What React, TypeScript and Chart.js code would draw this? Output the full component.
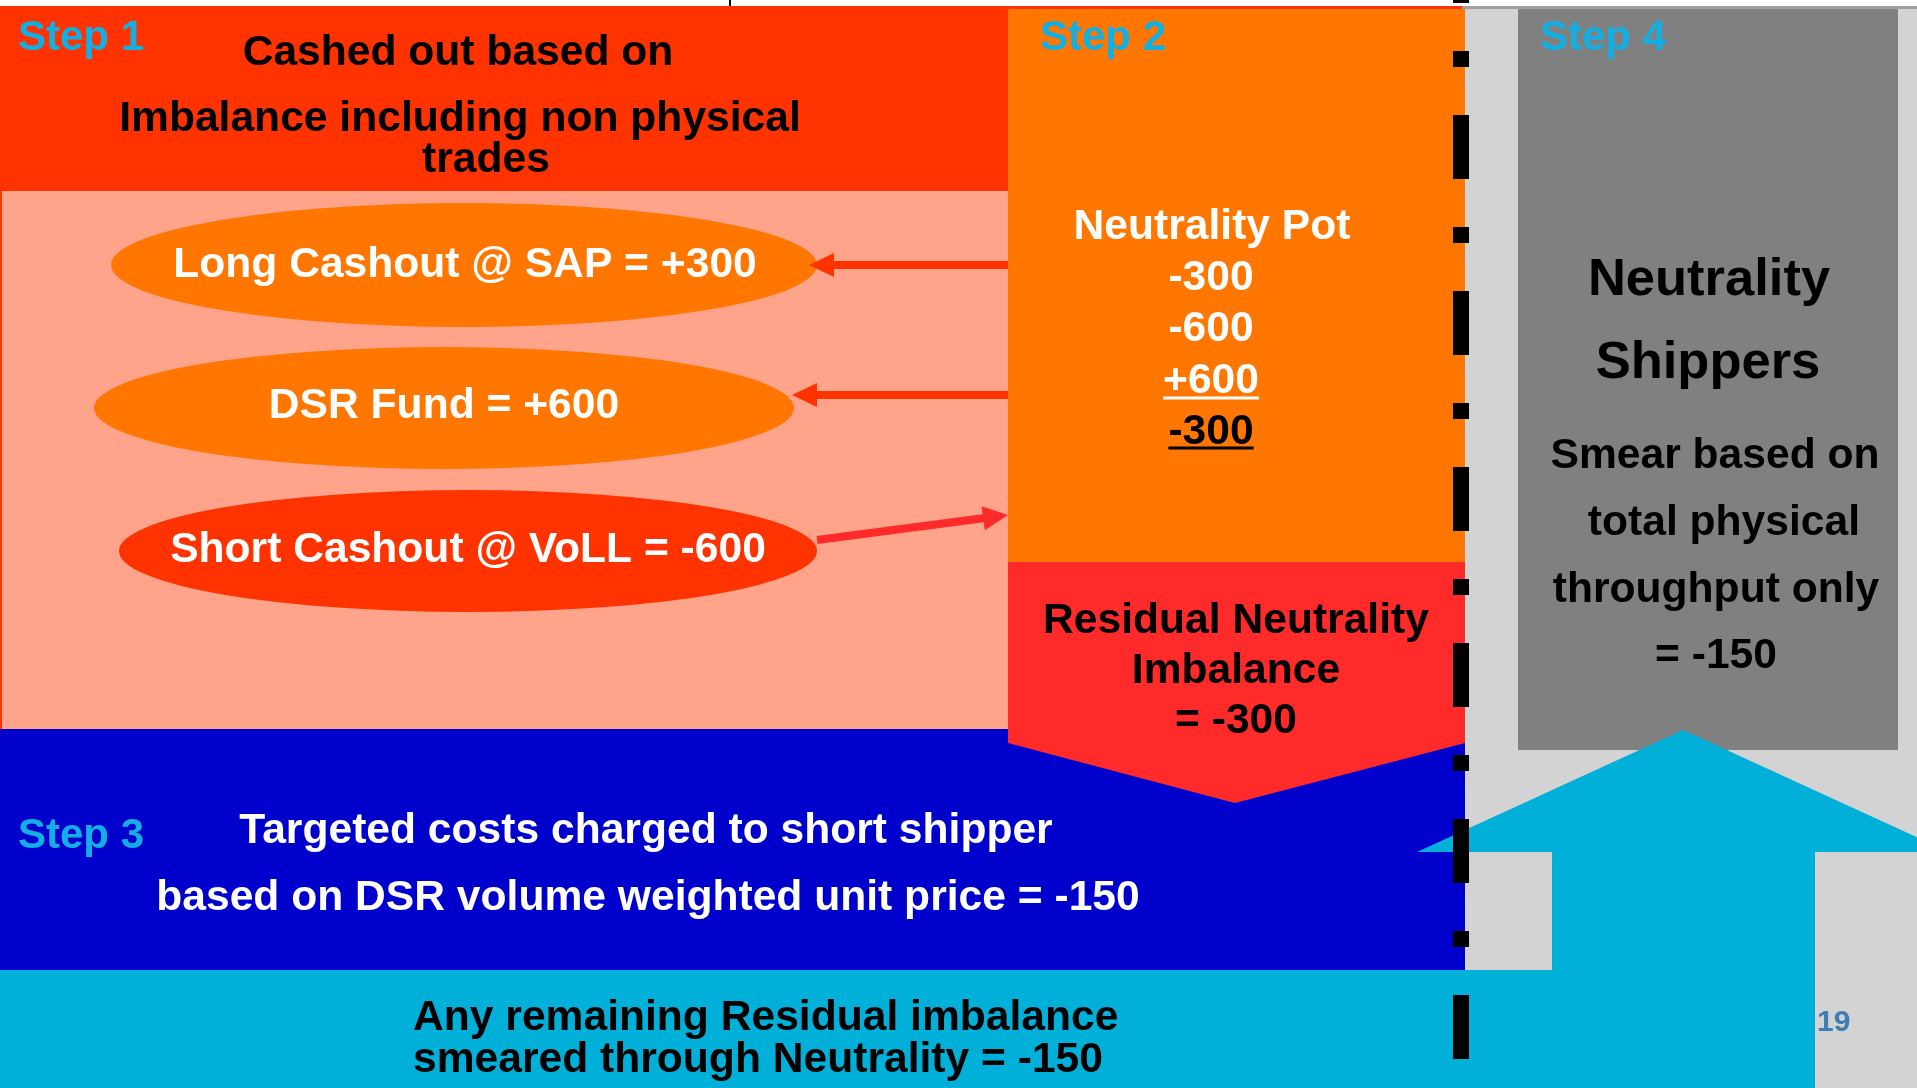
import React, { useEffect, useRef } from "react";
import Chart from "chart.js/auto";

// ---- Text content ----
const stepLabels = ["Step 1", "Step 2", "Step 3", "Step 4"];
const headerLines = ["Cashed out based on", "Imbalance including non physical", "trades"];
const ellipseLabels = ["Long Cashout @ SAP = +300", "DSR Fund = +600", "Short Cashout @ VoLL = -600"];
const potLines = ["Neutrality Pot", "-300", "-600", "+600", "-300"];
const residualLines = ["Residual Neutrality", "Imbalance", "= -300"];
const shipperTitle = ["Neutrality", "Shippers"];
const shipperLines = ["Smear based on", " total physical", "throughput only", "= -150"];
const step3Lines = ["Targeted costs charged to short shipper", "based on DSR volume weighted unit price = -150"];
const bottomLines = ["Any remaining Residual imbalance", "smeared through Neutrality = -150"];
const pageNumber = "19";

// ---- Diagram layout (in diagram units on the hidden linear axes) ----
const W = 1917;
const H = 1088;
const FONT = "'Liberation Sans', Arial, Helvetica, sans-serif";

const C = {
  red: "#FF3300",
  pink: "#FFA38B",
  orange: "#FF7700",
  resid: "#FF2A2A",
  blue: "#0000CC",
  cyan: "#00B0D8",
  step: "#13AFE3",
  dark: "#808080",
  light: "#D3D3D3",
  page: "#3D7EB5",
};

type Poly = { pts: number[][]; color: string };

const rects: { x0: number; y0: number; x1: number; y1: number; color: string }[] = [
  { x0: 1465, y0: 6, x1: W, y1: H, color: C.light },
  { x0: 0, y0: 6, x1: 1008, y1: 191, color: C.red },
  { x0: 0, y0: 191, x1: 1008, y1: 729, color: C.pink },
  { x0: 1008, y0: 6, x1: 1465, y1: 562, color: C.orange },
  { x0: 0, y0: 729, x1: 1465, y1: 970, color: C.blue },
  { x0: 1518, y0: 6, x1: 1898, y1: 750, color: C.dark },
];

const polys: Poly[] = [
  { pts: [[1008, 562], [1465, 562], [1465, 743], [1235, 803], [1008, 743]], color: C.resid },
  {
    pts: [[0, 970], [1552, 970], [1552, 852], [1417, 852], [1683, 730], [1949, 852], [1815, 852], [1815, H], [0, H]],
    color: C.cyan,
  },
];

const ellipses = [
  { cx: 464, cy: 265, rx: 353, ry: 62, color: C.orange },
  { cx: 444, cy: 408, rx: 350, ry: 61, color: C.orange },
  { cx: 468, cy: 551, rx: 349, ry: 61, color: C.red },
];

const arrows = [
  { x0: 1008, y0: 265, x1: 809, y1: 265, color: C.red },
  { x0: 1008, y0: 395, x1: 792, y1: 395, color: C.red },
  { x0: 817, y0: 540, x1: 1008, y1: 515, color: C.resid },
];

type T = { s: string; x: number; y: number; size: number; color: string; align: CanvasTextAlign; ul?: number };

function buildTexts(): T[] {
  const t: T[] = [];
  const f = 42.6;
  const sf = 42;
  t.push({ s: stepLabels[0], x: 18, y: 50, size: sf, color: C.step, align: "left" });
  t.push({ s: stepLabels[1], x: 1040, y: 50, size: sf, color: C.step, align: "left" });
  t.push({ s: stepLabels[2], x: 18, y: 848, size: sf, color: C.step, align: "left" });
  t.push({ s: stepLabels[3], x: 1540, y: 50, size: sf, color: C.step, align: "left" });

  t.push({ s: headerLines[0], x: 458, y: 65, size: f, color: "#000", align: "center" });
  t.push({ s: headerLines[1], x: 460, y: 131, size: f, color: "#000", align: "center" });
  t.push({ s: headerLines[2], x: 486, y: 172, size: f, color: "#000", align: "center" });

  t.push({ s: ellipseLabels[0], x: 465, y: 277, size: f, color: "#fff", align: "center" });
  t.push({ s: ellipseLabels[1], x: 444, y: 418, size: f, color: "#fff", align: "center" });
  t.push({ s: ellipseLabels[2], x: 468, y: 562, size: f, color: "#fff", align: "center" });

  t.push({ s: potLines[0], x: 1212, y: 239, size: f, color: "#fff", align: "center" });
  t.push({ s: potLines[1], x: 1211, y: 290, size: f, color: "#fff", align: "center" });
  t.push({ s: potLines[2], x: 1211, y: 341, size: f, color: "#fff", align: "center" });
  t.push({ s: potLines[3], x: 1211, y: 393, size: f, color: "#fff", align: "center", ul: 398 });
  t.push({ s: potLines[4], x: 1211, y: 444, size: f, color: "#000", align: "center", ul: 448 });

  t.push({ s: residualLines[0], x: 1236, y: 633, size: f, color: "#000", align: "center" });
  t.push({ s: residualLines[1], x: 1236, y: 683, size: f, color: "#000", align: "center" });
  t.push({ s: residualLines[2], x: 1236, y: 733, size: f, color: "#000", align: "center" });

  t.push({ s: shipperTitle[0], x: 1709, y: 295, size: 52.5, color: "#000", align: "center" });
  t.push({ s: shipperTitle[1], x: 1708, y: 378, size: 52.5, color: "#000", align: "center" });
  t.push({ s: shipperLines[0], x: 1715, y: 468, size: f, color: "#000", align: "center" });
  t.push({ s: shipperLines[1], x: 1718, y: 535, size: f, color: "#000", align: "center" });
  t.push({ s: shipperLines[2], x: 1716, y: 602, size: f, color: "#000", align: "center" });
  t.push({ s: shipperLines[3], x: 1716, y: 668, size: f, color: "#000", align: "center" });

  t.push({ s: step3Lines[0], x: 646, y: 843, size: f, color: "#fff", align: "center" });
  t.push({ s: step3Lines[1], x: 648, y: 910, size: f, color: "#fff", align: "center" });

  t.push({ s: bottomLines[0], x: 413, y: 1030, size: f, color: "#000", align: "left" });
  t.push({ s: bottomLines[1], x: 413, y: 1072, size: f, color: "#000", align: "left" });

  t.push({ s: pageNumber, x: 1817, y: 1031, size: 30, color: C.page, align: "left" });
  return t;
}

const diagramPlugin = {
  id: "diagram",
  beforeDatasetsDraw(chart: any) {
    const ctx: CanvasRenderingContext2D = chart.ctx;
    const X = (v: number) => chart.scales.x.getPixelForValue(v);
    const Y = (v: number) => chart.scales.y.getPixelForValue(v);
    ctx.save();
    for (const r of rects) {
      ctx.fillStyle = r.color;
      ctx.fillRect(X(r.x0), Y(r.y0), X(r.x1) - X(r.x0), Y(r.y1) - Y(r.y0));
    }
    // top border strips
    ctx.fillStyle = C.red;
    ctx.fillRect(X(0), Y(6), X(1462) - X(0), Y(9) - Y(6));
    ctx.fillStyle = "#A0A0A0";
    ctx.fillRect(X(1462), Y(6), X(W) - X(1462), Y(9) - Y(6));
    // thin red left edge on pink box
    ctx.fillStyle = C.red;
    ctx.fillRect(X(0), Y(191), X(2) - X(0), Y(729) - Y(191));

    for (const p of polys) {
      ctx.beginPath();
      p.pts.forEach((pt, i) => (i ? ctx.lineTo(X(pt[0]), Y(pt[1])) : ctx.moveTo(X(pt[0]), Y(pt[1]))));
      ctx.closePath();
      ctx.fillStyle = p.color;
      ctx.fill();
    }
    for (const e of ellipses) {
      ctx.beginPath();
      ctx.ellipse(X(e.cx), Y(e.cy), X(e.cx + e.rx) - X(e.cx), Y(e.cy + e.ry) - Y(e.cy), 0, 0, Math.PI * 2);
      ctx.fillStyle = e.color;
      ctx.fill();
    }
    for (const a of arrows) {
      const x0 = X(a.x0), y0 = Y(a.y0), x1 = X(a.x1), y1 = Y(a.y1);
      const ang = Math.atan2(y1 - y0, x1 - x0);
      const headL = 25, headW = 12;
      const bx = x1 - Math.cos(ang) * headL, by = y1 - Math.sin(ang) * headL;
      ctx.strokeStyle = a.color;
      ctx.lineWidth = 8;
      ctx.lineCap = "butt";
      ctx.beginPath();
      ctx.moveTo(x0, y0);
      ctx.lineTo(bx + Math.cos(ang) * 2, by + Math.sin(ang) * 2);
      ctx.stroke();
      ctx.beginPath();
      ctx.moveTo(x1, y1);
      ctx.lineTo(bx - Math.sin(ang) * headW, by + Math.cos(ang) * headW);
      ctx.lineTo(bx + Math.sin(ang) * headW, by - Math.cos(ang) * headW);
      ctx.closePath();
      ctx.fillStyle = a.color;
      ctx.fill();
    }
    // small tick at top
    ctx.fillStyle = "#000";
    ctx.fillRect(X(729), Y(0), 2, Y(6) - Y(0));
    ctx.restore();
  },
  afterDatasetsDraw(chart: any) {
    const ctx: CanvasRenderingContext2D = chart.ctx;
    const X = (v: number) => chart.scales.x.getPixelForValue(v);
    const Y = (v: number) => chart.scales.y.getPixelForValue(v);
    ctx.save();
    ctx.textBaseline = "alphabetic";
    for (const t of buildTexts()) {
      ctx.font = `bold ${t.size}px ${FONT}`;
      ctx.fillStyle = t.color;
      ctx.textAlign = t.align;
      ctx.fillText(t.s, X(t.x), Y(t.y));
      if (t.ul !== undefined) {
        const w = ctx.measureText(t.s).width;
        const left = t.align === "center" ? X(t.x) - w / 2 : X(t.x);
        ctx.fillRect(left, Y(t.ul) - 1.5, w, 3);
      }
    }
    ctx.restore();
  },
};

export default function App() {
  const ref = useRef<HTMLCanvasElement | null>(null);
  useEffect(() => {
    if (!ref.current) return;
    const chart = new Chart(ref.current, {
      type: "line",
      data: {
        datasets: [
          {
            label: "separator",
            data: [
              { x: 1461, y: -61 },
              { x: 1461, y: H },
            ],
            borderColor: "#000",
            borderWidth: 16,
            borderDash: [64, 48, 16, 48],
            borderCapStyle: "butt",
            pointRadius: 0,
            fill: false,
            tension: 0,
          } as any,
        ],
      },
      options: {
        responsive: false,
        animation: false,
        devicePixelRatio: 1,
        layout: { padding: 0 },
        events: [],
        plugins: { legend: { display: false }, tooltip: { enabled: false } },
        scales: {
          x: { type: "linear", min: 0, max: W, display: false },
          y: { type: "linear", min: 0, max: H, reverse: true, display: false },
        },
      },
      plugins: [diagramPlugin],
    });
    return () => chart.destroy();
  }, []);
  return (
    <div style={{ position: "absolute", left: 0, top: 0, width: W, height: H, background: "#fff" }}>
      <canvas ref={ref} width={W} height={H} style={{ display: "block", width: W, height: H }} />
    </div>
  );
}
